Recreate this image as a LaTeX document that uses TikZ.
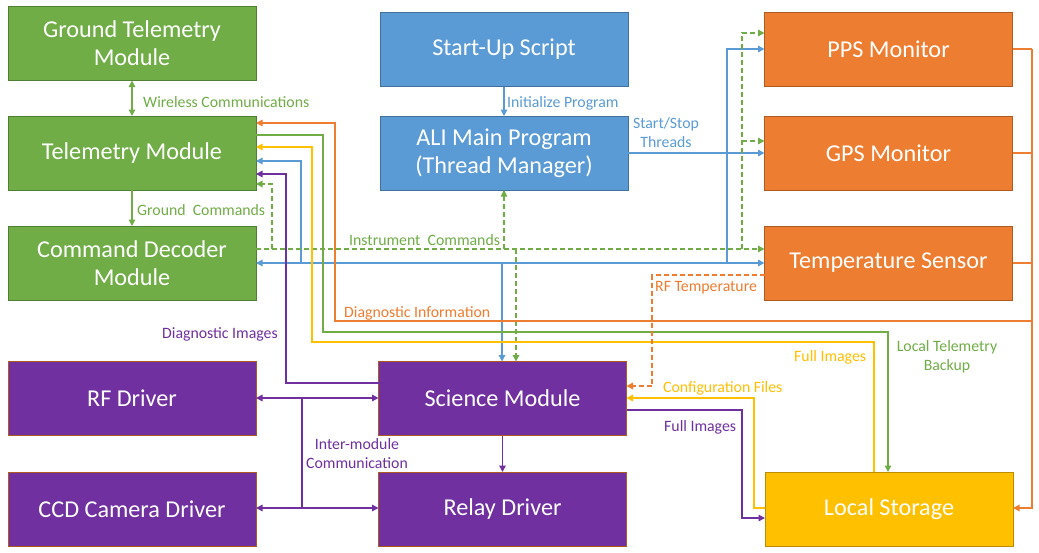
\documentclass[tikz,border=0pt]{standalone}
\usepackage{fontspec}
\setmainfont{Carlito}
\usetikzlibrary{arrows.meta,positioning,calc}
\definecolor{cg}{HTML}{70AD47}
\definecolor{cgd}{HTML}{507E32}
\definecolor{cb}{HTML}{5B9BD5}
\definecolor{cbd}{HTML}{41719C}
\definecolor{co}{HTML}{ED7D31}
\definecolor{cod}{HTML}{AE5A21}
\definecolor{cy}{HTML}{FFC000}
\definecolor{cyd}{HTML}{BC8C00}
\definecolor{cp}{HTML}{7030A0}
\begin{document}
\begin{tikzpicture}[x=1pt,y=-1pt,
  box/.style={rectangle,minimum width=248pt,minimum height=74pt,inner sep=0pt,outer sep=0pt,
    line width=0.9pt,text=white,align=center,font=\fontsize{24.2}{28}\selectfont},
  gbox/.style={box,fill=cg,draw=cgd},
  bbox/.style={box,fill=cb,draw=cbd},
  obox/.style={box,fill=co,draw=cod},
  pbox/.style={box,fill=cp,draw=cod},
  ybox/.style={box,fill=cy,draw=cyd},
  lab/.style={inner sep=0pt,font=\fontsize{15.8}{19}\selectfont},
  ln/.style={line width=1.4pt},
  tip/.style={-{Triangle[length=6.5pt,width=6.5pt]}},
  dtip/.style={{Triangle[length=6.5pt,width=6.5pt]}-{Triangle[length=6.5pt,width=6.5pt]}},
  dsh/.style={dash pattern=on 5pt off 3pt},
  lg/.style={ln,cg}, lb/.style={ln,cb}, lo/.style={ln,co}, ly/.style={ln,cy}, lp/.style={ln,cp}
]
\useasboundingbox[fill=white] (0,0) rectangle (1039,552);

% boxes
\node[gbox] (gtm) at (132,43.5) {Ground Telemetry\\Module};
\node[gbox] (tm) at (132,153) {Telemetry Module};
\node[gbox] (cd) at (132,263) {Command Decoder\\Module};
\node[pbox] (rf) at (132,398.5) {RF Driver};
\node[pbox] (ccd) at (132,509) {CCD Camera Driver};
\node[bbox] (su) at (504,49.5) {Start-Up Script};
\node[bbox] (ali) at (504,153) {ALI Main Program\\(Thread Manager)};
\node[pbox] (sci) at (502.5,398.5) {Science Module};
\node[pbox] (relay) at (502.5,509) {Relay Driver};
\node[obox] (pps) at (888.5,49) {PPS Monitor};
\node[obox] (gps) at (888.5,153) {GPS Monitor};
\node[obox] (temp) at (888.5,263) {Temperature Sensor};
\node[ybox] (ls) at (889,509) {Local Storage};

% junction coordinates
\coordinate (j1) at (727,263);
\coordinate (j2) at (301,263);
\coordinate (j3) at (502,263);
\coordinate (k1) at (272,249);
\coordinate (k2) at (504,249);
\coordinate (k3) at (516,249);
\coordinate (k4) at (742,249);
\coordinate (ob1) at (1032,49);
\coordinate (ob2) at (1032,508);
\coordinate (im1) at (302,398);
\coordinate (im2) at (302,508);

% green left column
\draw[lg,dtip] (gtm.south) -- (tm.north);
\draw[lg,tip] (tm.south) -- (cd.north);
% blue
\draw[lb,tip] (su.south) -- (ali.north);
\draw[lb,tip] (ali.east) -- (gps.west);
\draw[lb,dtip] (cd.east) -- (temp.west);
\draw[lb,tip] (j1) |- (pps.west);
\draw[lb,tip] (j2) |- (tm.east |- 0,161);
\draw[lb,tip] (j3) -- (j3 |- sci.north);
% green dashed
\draw[lg,dsh,tip] (cd.east |- 0,249) -- (temp.west |- 0,249);
\draw[lg,dsh,tip] (k1) |- (tm.east |- 0,184);
\draw[lg,dsh,tip] (k2) -- (k2 |- ali.south);
\draw[lg,dsh,tip] (k3) -- (k3 |- sci.north);
\draw[lg,dsh,tip] (k4) |- (pps.west |- 0,33);
\draw[lg,dsh,tip] (k4 |- 0,141) -- (gps.west |- 0,141);
% orange bus
\draw[lo] (pps.east) -- (ob1);
\draw[lo,tip] (ob1) -- (ob2) -- (ls.east |- ob2);
\draw[lo] (gps.east) -- (gps.east -| ob1);
\draw[lo] (temp.east) -- (temp.east -| ob1);
\draw[lo,tip] (ob1 |- 0,321) -| (335,123) -- (tm.east |- 0,123);
% green solid
\draw[lg,tip] (tm.east |- 0,135) -| (323,332) -| (ls.north -| 888,0);
% yellow
\draw[ly,tip] (ls.north -| 874,0) |- (312,342) |- (tm.east |- 0,147);
% purple diagnostic images
\draw[lp,tip] (sci.west |- 0,383) -| (286,174) -- (tm.east |- 0,174);
% RF temperature
\draw[lo,dsh,tip] (temp.west |- 0,275) -| (652,386) -- (sci.east |- 0,386);
% configuration files
\draw[ly,tip] (ls.west |- 0,508) -| (754,398) -- (sci.east |- 0,398);
% full images purple
\draw[lp,tip] (sci.east |- 0,410) -| (742,518) -- (ls.west |- 0,518);
% science -> relay
\draw[lp,tip] (sci.south) -- (relay.north);
% inter-module
\draw[lp,dtip] (rf.east |- im1) -- (sci.west |- im1);
\draw[lp,dtip] (ccd.east |- im2) -- (relay.west |- im2);
\draw[lp] (im1) -- (im2);

% labels
\node[lab,text=cg,anchor=west] (l1) at (143,102) {Wireless Communications};
\node[lab,text=cg,anchor=west] (l2) at (137,210) {Ground\ \ Commands};
\node[lab,text=cb,anchor=west] (l3) at (507,103) {Initialize Program};
\node[lab,text=cb,align=center] (l4) at (666,133) {Start/Stop\\Threads};
\node[lab,text=cg,anchor=west] (l5) at (349,240) {Instrument\ \ Commands};
\node[lab,text=co,anchor=west] (l6) at (655,288) {RF Temperature};
\node[lab,text=co,anchor=west] (l7) at (344,313) {Diagnostic Information};
\node[lab,text=cp,anchor=west] (l8) at (162,334) {Diagnostic Images};
\node[lab,text=cy,anchor=west] (l9) at (794,357) {Full Images};
\node[lab,text=cg,align=center] (l10) at (947,357) {Local Telemetry\\Backup};
\node[lab,text=cy,anchor=west] (l11) at (663,388) {Configuration Files};
\node[lab,text=cp,anchor=west] (l12) at (664,427) {Full Images};
\node[lab,text=cp,align=center] (l13) at (357,454) {Inter-module\\Communication};
\end{tikzpicture}
\end{document}
